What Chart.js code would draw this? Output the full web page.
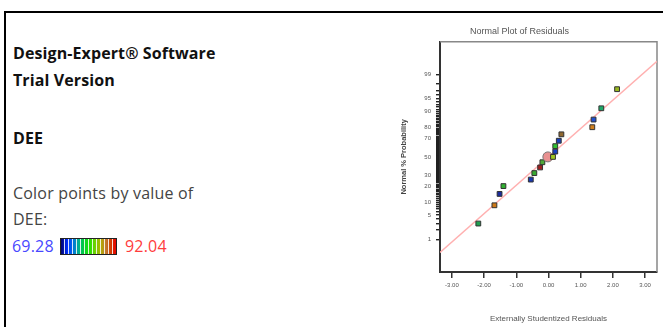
<!DOCTYPE html>
<html>
<head>
<meta charset="utf-8">
<script src="https://cdn.jsdelivr.net/npm/chart.js@4.4.1/dist/chart.umd.min.js"></script>
<style>
  html, body { margin: 0; padding: 0; background: #fff; }
  body { width: 663px; height: 327px; position: relative; overflow: hidden; font-family: "Open Sans", sans-serif; }
  .frame { position: absolute; left: 4px; top: 11px; width: 700px; height: 400px; border-top: 2px solid #000; border-left: 2px solid #000; }
  .info { position: absolute; left: 13px; font-size: 16px; line-height: 20px; letter-spacing: 0.2px; white-space: nowrap; }
  .info.bold { font-weight: bold; color: #111; letter-spacing: 0.1px; }
  .info.plain { color: #444; }
  .lo { color: #4848ff; }
  .hi { color: #ff3c3c; }
  .ramp { position: absolute; left: 60px; top: 238px; width: 57px; height: 17px; box-sizing: border-box; border: 1px solid #222;
    background:
      repeating-linear-gradient(90deg, transparent 0 3px, rgba(255,255,255,0.85) 3px 4px),
      linear-gradient(90deg, #000070 0%, #0030ff 12%, #0070e0 22%, #00b090 32%, #00d030 42%, #20e000 52%, #70d000 62%, #b0b000 72%, #c07830 82%, #d04000 90%, #e80000 100%); }
  #plot { position: absolute; left: 380px; top: 20px; width: 283px; height: 307px; filter: blur(0.35px); }
</style>
</head>
<body>
<div class="frame"></div>
<div class="info bold" style="top:43px">Design-Expert® Software</div>
<div class="info bold" style="top:70px">Trial Version</div>
<div class="info bold" style="top:128px">DEE</div>
<div class="info plain" style="top:183px">Color points by value of</div>
<div class="info plain" style="top:209px">DEE:</div>
<div class="info" style="top:236px; left:12px"><span class="lo">69.28</span></div>
<div class="ramp"></div>
<div class="info" style="top:236px; left:125px"><span class="hi">92.04</span></div>
<div id="plot"><canvas id="residualChart"></canvas></div>

<script>
// residuals (x) and their normal % probability (y)
const residuals = [-2.18, -1.68, -1.52, -1.40, -0.55, -0.44, -0.26, -0.19, -0.02, 0.14, 0.21, 0.21, 0.32, 0.40, 1.36, 1.40, 1.64, 2.13];
const probabilities = [3.0, 8.6, 14.8, 20.5, 26.1, 32.4, 38.3, 44.0, 50.0, 50.0, 56.0, 61.9, 67.6, 73.8, 79.9, 85.4, 91.5, 97.2];

// reference line end points
const lineResiduals = [-3.37, 3.37];
const lineProbabilities = [0.35, 99.65];

// axes
const xTicks = [-3, -2, -1, 0, 1, 2, 3];
const xRange = [-3.37, 3.37];
const yRange = [0.058, 99.942];
const yLabelled = [1, 5, 10, 20, 30, 50, 70, 80, 90, 95, 99];
const yMinorTicks = [1, 2, 3, 4, 5, 6, 7, 8, 9, 10, 11, 12, 13, 14, 15, 16, 17, 18, 19, 20, 21, 22, 23, 24, 25, 26, 27, 28, 29, 30,
  31, 32, 33, 34, 35, 36, 37, 38, 39, 40, 41, 42, 43, 44, 45, 46, 47, 48, 49, 50, 51, 52, 53, 54, 55, 56, 57, 58, 59, 60,
  61, 62, 63, 64, 65, 66, 67, 68, 69, 70, 71, 72, 73, 74, 75, 76, 77, 78, 79, 80, 81, 82, 83, 84, 85, 86, 87, 88, 89, 90,
  91, 92, 93, 94, 95, 96, 97, 98, 99];

// point colours (by DEE) and the selected run
const pointColors = ['#20a050', '#d07818', '#1c2c9c', '#30b030', '#1838b0', '#38a830', '#a02020', '#50a838', '#e89090',
  '#a0c820', '#1840c0', '#30c030', '#1840b8', '#906830', '#d08020', '#2050d0', '#20a868', '#98b820'];
const selectedPoint = 8;

// inverse normal CDF (Acklam)
function probit(pct) {
  const p = Math.min(Math.max(pct / 100, 1e-9), 1 - 1e-9);
  const a = [-39.69683028665376, 220.9460984245205, -275.9285104469687, 138.3577518672690, -30.66479806614716, 2.506628277459239];
  const b = [-54.47609879822406, 161.5858368580409, -155.6989798598866, 66.80131188771972, -13.28068155288572];
  const c = [-0.007784894002430293, -0.3223964580411365, -2.400758277161838, -2.549732539343734, 4.374664141464968, 2.938163982698783];
  const d = [0.007784695709041462, 0.3224671290700398, 2.445134137142996, 3.754408661907416];
  const tail = q => (((((c[0] * q + c[1]) * q + c[2]) * q + c[3]) * q + c[4]) * q + c[5]) /
    ((((d[0] * q + d[1]) * q + d[2]) * q + d[3]) * q + 1);
  if (p < 0.02425) return tail(Math.sqrt(-2 * Math.log(p)));
  if (p > 0.97575) return -tail(Math.sqrt(-2 * Math.log(1 - p)));
  const q = p - 0.5, r = q * q;
  return (((((a[0] * r + a[1]) * r + a[2]) * r + a[3]) * r + a[4]) * r + a[5]) * q /
    (((((b[0] * r + b[1]) * r + b[2]) * r + b[3]) * r + b[4]) * r + 1);
}

// normal CDF, used to go back from pixels
function normCdf(z) {
  const t = 1 / (1 + 0.2316419 * Math.abs(z));
  const d = 0.3989423 * Math.exp(-z * z / 2);
  const p = d * t * (0.3193815 + t * (-0.3565638 + t * (1.781478 + t * (-1.821256 + t * 1.330274))));
  return z > 0 ? 1 - p : p;
}

// probability axis: linear in normal quantiles
class ProbitScale extends Chart.LinearScale {
  static id = 'probit';
  static defaults = {};

  buildTicks() {
    return yMinorTicks.map(v => ({ value: v, major: yLabelled.includes(v) }));
  }

  getPixelForValue(value) {
    const lo = probit(this.min), hi = probit(this.max);
    return this.getPixelForDecimal((probit(value) - lo) / (hi - lo));
  }

  getValueForPixel(pixel) {
    const lo = probit(this.min), hi = probit(this.max);
    return normCdf(lo + this.getDecimalForPixel(pixel) * (hi - lo)) * 100;
  }
}
Chart.register(ProbitScale);

// plot box: thin grey top/right edges
const plotFrame = {
  id: 'plotFrame',
  beforeDatasetsDraw(chart) {
    const { ctx, chartArea: a } = chart;
    ctx.save();
    ctx.strokeStyle = '#888';
    ctx.lineWidth = 1.5;
    ctx.beginPath();
    ctx.moveTo(a.left, a.top);
    ctx.lineTo(a.right, a.top);
    ctx.lineTo(a.right, a.bottom);
    ctx.stroke();
    ctx.restore();
  }
};

const chartFont = "'Liberation Sans', Arial, sans-serif";
const textColor = '#555';

new Chart(document.getElementById('residualChart'), {
  type: 'scatter',
  data: {
    datasets: [
      {
        data: residuals.map((r, i) => ({ x: r, y: probabilities[i] })),
        backgroundColor: pointColors,
        borderColor: ctx => ctx.dataIndex === selectedPoint ? '#777' : '#333',
        borderWidth: 1,
        pointStyle: ctx => ctx.dataIndex === selectedPoint ? 'circle' : 'rect',
        pointRadius: ctx => ctx.dataIndex === selectedPoint ? 5 : 3.4,
        order: 1
      },
      {
        type: 'line',
        data: lineResiduals.map((r, i) => ({ x: r, y: lineProbabilities[i] })),
        borderColor: '#ffb0b0',
        borderWidth: 1.5,
        pointRadius: 0,
        fill: false,
        order: 2
      }
    ]
  },
  options: {
    responsive: true,
    maintainAspectRatio: false,
    animation: false,
    layout: { padding: { left: 0, right: 4, top: 0, bottom: 0 } },
    plugins: {
      legend: { display: false },
      tooltip: { enabled: false },
      title: {
        display: true,
        text: 'Normal Plot of Residuals',
        color: textColor,
        font: { family: chartFont, size: 9, weight: 'normal' },
        padding: { top: 6, bottom: 5 }
      }
    },
    scales: {
      x: {
        type: 'linear',
        min: xRange[0],
        max: xRange[1],
        afterBuildTicks: axis => { axis.ticks = xTicks.map(v => ({ value: v })); },
        afterFit: axis => { axis.height = 55; },
        ticks: {
          color: textColor,
          font: { family: chartFont, size: 6 },
          padding: 4,
          maxRotation: 0,
          callback: v => v.toFixed(2)
        },
        grid: { drawOnChartArea: false, drawTicks: true, tickLength: 6, color: '#333', lineWidth: 1.5 },
        border: { display: true, color: '#333', width: 2 },
        title: {
          display: true,
          text: 'Externally Studentized Residuals',
          color: textColor,
          font: { family: chartFont, size: 8 },
          padding: { top: 0, bottom: 3 }
        }
      },
      y: {
        type: 'probit',
        min: yRange[0],
        max: yRange[1],
        afterFit: axis => { axis.width = 60; },
        ticks: {
          autoSkip: false,
          color: textColor,
          font: { family: chartFont, size: 6 },
          padding: 5,
          callback: v => yLabelled.includes(v) ? String(v) : ''
        },
        grid: { drawOnChartArea: false, drawTicks: true, tickLength: 4, color: '#222', lineWidth: 1.4 },
        border: { display: true, color: '#333', width: 2 },
        title: {
          display: true,
          text: 'Normal % Probability',
          color: '#444',
          font: { family: chartFont, size: 7.5, weight: 'bold' },
          padding: { top: 19, bottom: 0 }
        }
      }
    }
  },
  plugins: [plotFrame]
});
</script>
</body>
</html>
